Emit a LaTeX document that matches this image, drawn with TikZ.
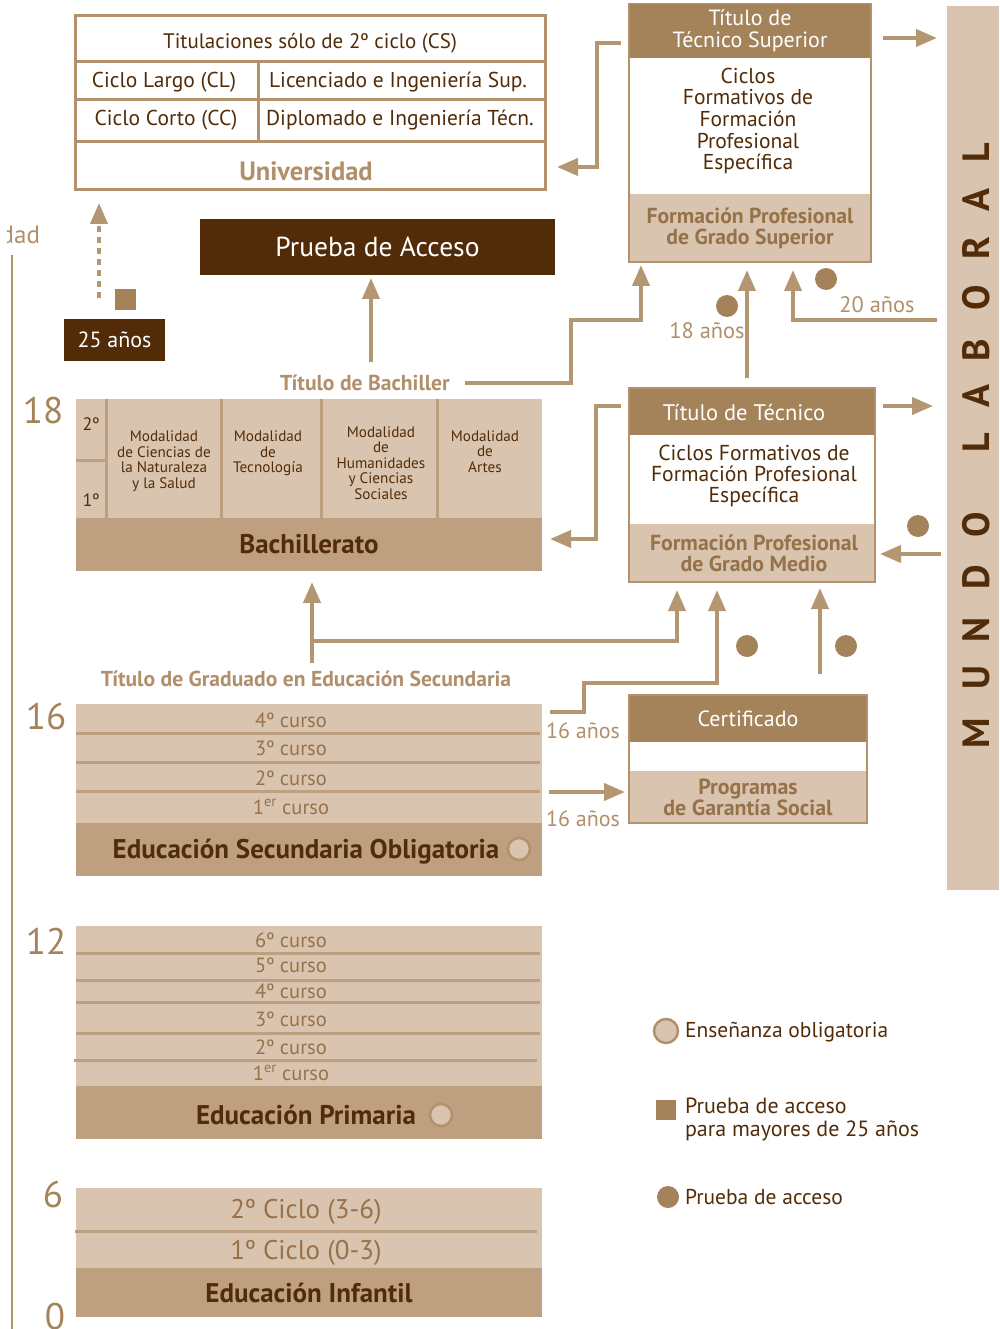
\documentclass[tikz,border=0pt]{standalone}
\usepackage{fontspec}
\setmainfont{PT Sans}
\usetikzlibrary{arrows.meta}
\definecolor{darkbr}{RGB}{82,44,8}
\definecolor{headbr}{RGB}{165,131,90}
\definecolor{tanl}{RGB}{217,197,175}
\definecolor{tanm}{RGB}{190,160,128}
\definecolor{arrowc}{RGB}{180,150,115}
\definecolor{midtxt}{RGB}{150,114,74}
\definecolor{lighttxt}{RGB}{176,143,106}
\definecolor{linec}{RGB}{178,145,108}
\begin{document}
\begin{tikzpicture}[x=1pt,y=-1pt,
  every node/.style={inner sep=0pt,outer sep=0pt},
  tx/.style 2 args={font=\fontsize{#1}{#2}\selectfont},
  txb/.style 2 args={font=\fontsize{#1}{#2}\selectfont\bfseries},
  blk/.style 2 args={minimum width=#1pt,minimum height=#2pt},
  conn/.style={arrowc,line width=4pt,-{Triangle[length=21pt,width=17pt]}},
  dot/.style={circle,fill=headbr,minimum size=22pt},
  obl/.style={circle,fill=tanl,draw=linec,line width=2.5pt,minimum size=22pt},
  sep/.style={tanm,line width=3pt}]
\useasboundingbox (0,0) rectangle (999,1329);

\draw[linec,line width=2pt] (12,255) -- (12,1329);
\begin{scope}
\clip (7,200) rectangle (60,260);
\node[tx={25}{27},text=lighttxt,anchor=east] (edad) at (40,235) {Edad};
\end{scope}

\node[blk={470}{174},draw=linec,line width=3pt,fill=white] (uni) at (310,103) {};
\draw[linec,line width=3pt] (75,62) -- (545,62) (75,100) -- (545,100) (75,142) -- (545,142) (258,62) -- (258,142);
\node[tx={21}{23},text=darkbr] (titcs) at (310,43) {Titulaciones sólo de 2º ciclo (CS)};
\node[tx={21.5}{23},text=darkbr] (cl) at (164,82) {Ciclo Largo (CL)};
\node[tx={21.5}{23},text=darkbr] (lic) at (398,82) {Licenciado e Ingeniería Sup.};
\node[tx={21.5}{23},text=darkbr] (cc) at (166,120) {Ciclo Corto (CC)};
\node[tx={21.5}{23},text=darkbr] (dip) at (400,120) {Diplomado e Ingeniería Técn.};
\node[txb={26.5}{28},text=lighttxt] (univ) at (306,171) {Universidad};

\node[blk={355}{56},fill=darkbr,text=white,tx={27.5}{29}] (acceso) at (377.5,247) {Prueba de Acceso};
\node[blk={101}{42},fill=darkbr,text=white,tx={22}{24}] (mayores) at (114.5,340) {25 años};
\node[fill=headbr,minimum size=21pt] (sq25) at (125.5,299.5) {};
\coordinate (d25) at (99,298);
\draw[conn,dash pattern=on 6pt off 5pt,shorten >=13pt] (d25) -- (d25 |- uni.south);

\node[blk={52}{884},fill=tanl] (mundo) at (973,448) {};
\foreach \l/\y [count=\i] in {L/153,A/200,R/248,O/298,B/350,A/396,L/443,O/525,D/577,N/630,U/678,M/733}
  \node[rotate=90,txb={38}{40},text=darkbr] (ml\i) at (976,\y) {\l};

\node[blk={242}{55},fill=headbr,text=white,align=center,tx={22}{22}] (tecsuphead) at (750,31) {Título de\\Técnico Superior};
\node[blk={242}{134},fill=white] (tecsupbody) at (750,127) {};
\node[blk={242}{68},fill=tanl,text=midtxt,align=center,txb={21.7}{21}] (tecsupgrado) at (750,228) {Formación Profesional\\de Grado Superior};
\draw[linec,line width=1.5pt] (tecsuphead.north west) rectangle (tecsupgrado.south east);
\node[align=center,tx={21.5}{21.7},text=darkbr] (tecsupt) at (748,121) {Ciclos\\Formativos de\\Formación\\Profesional\\Específica};

\node[blk={246}{47},fill=headbr] (techead) at (752,411.5) {};
\node[text=white,tx={22.5}{24}] (techeadt) at (744,413) {Título de Técnico};
\node[blk={246}{89},fill=white] (tecbody) at (752,479.5) {};
\node[blk={246}{58},fill=tanl] (tecgrado) at (752,553) {};
\draw[linec,line width=1.5pt] (techead.north west) rectangle (tecgrado.south east);
\node[align=center,tx={21.6}{21},text=darkbr] (tecbodyt) at (754,476) {Ciclos Formativos de\\Formación Profesional\\Específica};
\node[align=center,txb={21.8}{21},text=midtxt] (tecgradot) at (754,553.5) {Formación Profesional\\de Grado Medio};

\node[blk={238}{47},fill=headbr,text=white,tx={22}{24}] (certhead) at (748,718.5) {Certificado};
\node[blk={238}{29},fill=white] (certbody) at (748,756.5) {};
\node[blk={238}{52},fill=tanl,text=midtxt,align=center,txb={21.9}{21}] (pgs) at (748,797) {Programas\\de Garantía Social};
\draw[linec,line width=1.5pt] (certhead.north west) rectangle (pgs.south east);

\node[blk={466}{119},fill=tanl] (bachmod) at (309,458.5) {};
\node[blk={466}{53},fill=tanm,text=darkbr,txb={27}{29}] (bachbar) at (309,544.5) {Bachillerato};
\draw[sep] (106,399) -- (106,518) (221,399) -- (221,518) (321,399) -- (321,518) (437,399) -- (437,518) (76,460) -- (106,460);
\node[tx={18}{20},text=darkbr] (seg) at (91,424) {2º};
\node[tx={18}{20},text=darkbr] (pri) at (91,500) {1º};
\node[align=center,tx={15.2}{15.5},text=darkbr] (mod1) at (164,461) {Modalidad\\de Ciencias de\\la Naturaleza\\y la Salud};
\node[align=center,tx={15.2}{15.5},text=darkbr] (mod2) at (268,453.5) {Modalidad\\de\\Tecnología};
\node[align=center,tx={15.2}{15.5},text=darkbr] (mod3) at (381,463) {Modalidad\\de\\Humanidades\\y Ciencias\\Sociales};
\node[align=center,tx={15.2}{15.5},text=darkbr] (mod4) at (485,451.5) {Modalidad\\de\\Artes};
\node[txb={21.6}{23},text=lighttxt] (bachtit) at (365,383) {Título de Bachiller};
\node[txb={21.6}{23},text=lighttxt] (grad) at (306,679) {Título de Graduado en Educación Secundaria};

\node[blk={466}{119},fill=tanl] (esorows) at (309,763.5) {};
\node[blk={466}{53},fill=tanm] (esobar) at (309,849.5) {};
\draw[sep] (76,733) -- (540,733) (76,762) -- (540,762) (76,791) -- (540,791);
\node[tx={20.5}{22},text=midtxt] (eso4) at (291,720) {4º curso};
\node[tx={20.5}{22},text=midtxt] (eso3) at (291,748) {3º curso};
\node[tx={20.5}{22},text=midtxt] (eso2) at (291,778) {2º curso};
\node[tx={20.5}{22},text=midtxt] (eso1) at (291,807) {1\textsuperscript{er} curso};
\node[txb={27}{29},text=darkbr] (esot) at (306,852) {Educación Secundaria Obligatoria};
\node[obl] (esoobl) at (519,849) {};

\node[blk={466}{160},fill=tanl] (primrows) at (309,1006) {};
\node[blk={466}{53},fill=tanm] (primbar) at (309,1112.5) {};
\draw[sep] (76,953) -- (540,953) (76,980) -- (540,980) (76,1002) -- (540,1002) (76,1033) -- (540,1033) (74,1060) -- (537,1060);
\node[tx={20.5}{22},text=midtxt] (prim6) at (291,940) {6º curso};
\node[tx={20.5}{22},text=midtxt] (prim5) at (291,965) {5º curso};
\node[tx={20.5}{22},text=midtxt] (prim4) at (291,991) {4º curso};
\node[tx={20.5}{22},text=midtxt] (prim3) at (291,1019) {3º curso};
\node[tx={20.5}{22},text=midtxt] (prim2) at (291,1047) {2º curso};
\node[tx={20.5}{22},text=midtxt] (prim1) at (291,1073) {1\textsuperscript{er} curso};
\node[txb={27}{29},text=darkbr] (primt) at (306,1115) {Educación Primaria};
\node[obl] (primobl) at (441,1115) {};

\node[blk={466}{80},fill=tanl] (infrows) at (309,1228) {};
\node[blk={466}{49},fill=tanm,text=darkbr,txb={27}{29}] (infbar) at (309,1292.5) {Educación Infantil};
\draw[sep] (75,1231) -- (537,1231);
\node[tx={27}{29},text=midtxt] (inf2) at (306,1212) {2º Ciclo (3-6)};
\node[tx={27}{29},text=midtxt] (inf1) at (306,1253) {1º Ciclo (0-3)};

\node[tx={37}{39},text=headbr] (n18) at (43,411) {18};
\node[tx={37}{39},text=headbr] (n16) at (46,717) {16};
\node[tx={37}{39},text=headbr] (n12) at (46,941) {12};
\node[tx={37}{39},text=headbr] (n6) at (53,1195) {6};
\node[tx={37}{39},text=headbr] (n0) at (55,1317) {0};

\coordinate (bu) at (371,362);
\draw[conn,shorten >=3pt] (bu) -- (bu |- acceso.south);
\coordinate (bt1) at (571,320);
\coordinate (bt2) at (641,320);
\draw[conn,shorten >=3pt] ([xshift=15pt]bachtit.east) -| (bt1) -- (bt2) -- (bt2 |- tecsupgrado.south);
\coordinate (ts0) at (621,43);
\coordinate (ts1) at (597,167);
\draw[conn,shorten >=12pt] (ts0) -| (ts1) -- (ts1 -| uni.east);
\coordinate (ts2) at (883,38);
\draw[conn,shorten >=10pt] (ts2) -- (ts2 -| mundo.west);
\coordinate (t18) at (747,378);
\draw[conn,shorten >=8pt] (t18) -- (t18 |- tecsupgrado.south);
\coordinate (m20) at (937,320);
\coordinate (m20b) at (793,320);
\draw[conn,shorten >=8pt] (m20) -- (m20b) -- (m20b |- tecsupgrado.south);
\coordinate (tc0) at (621,406);
\coordinate (tc1) at (596,539);
\draw[conn,shorten >=8pt] (tc0) -| (tc1) -- (tc1 -| bachbar.east);
\coordinate (tc2) at (883,406);
\draw[conn,shorten >=14pt] (tc2) -- (tc2 -| mundo.west);
\coordinate (mm) at (941,554);
\draw[conn,shorten >=5pt] (mm) -- (mm -| tecgrado.east);
\coordinate (g1) at (312,663);
\draw[conn,shorten >=11pt] (g1) -- (g1 |- bachbar.south);
\coordinate (g2) at (312,641);
\coordinate (g3) at (677,641);
\draw[conn,shorten >=8pt] (g2) -- (g3) -- (g3 |- tecgrado.south);
\coordinate (e1) at (550,712);
\coordinate (e2) at (584,683);
\coordinate (e3) at (717,683);
\draw[conn,shorten >=8pt] (e1) -| (e2) -- (e3) -- (e3 |- tecgrado.south);
\coordinate (c1) at (820,674);
\draw[conn,shorten >=6pt] (c1) -- (c1 |- tecgrado.south);
\coordinate (e4) at (549,792);
\draw[conn,shorten >=4pt] (e4) -- (e4 -| pgs.west);

\node[dot] (p18) at (727,306) {};
\node[dot] (p20) at (826,279) {};
\node[dot] (pmm) at (918,526) {};
\node[dot] (peso) at (747,646) {};
\node[dot] (pcert) at (846,646) {};
\node[tx={22.4}{24},text=lighttxt] (a18) at (707,331) {18 años};
\node[tx={22.4}{24},text=lighttxt] (a20) at (877,305) {20 años};
\node[tx={22}{24},text=lighttxt] (a16a) at (583,731) {16 años};
\node[tx={22}{24},text=lighttxt] (a16b) at (583,819) {16 años};

\node[obl,minimum size=24pt] (legobl) at (666,1031) {};
\node[anchor=west,tx={21.5}{23},text=darkbr] (legoblt) at (685,1032) {Enseñanza obligatoria};
\node[fill=headbr,minimum size=20pt] (legsq) at (666,1109.5) {};
\node[anchor=west,align=left,tx={22}{23},text=darkbr] (legsqt) at (685,1119.5) {Prueba de acceso\\para mayores de 25 años};
\node[dot] (legdot) at (668,1197) {};
\node[anchor=west,tx={21.5}{23},text=darkbr] (legdott) at (685,1197) {Prueba de acceso};
\end{tikzpicture}
\end{document}
